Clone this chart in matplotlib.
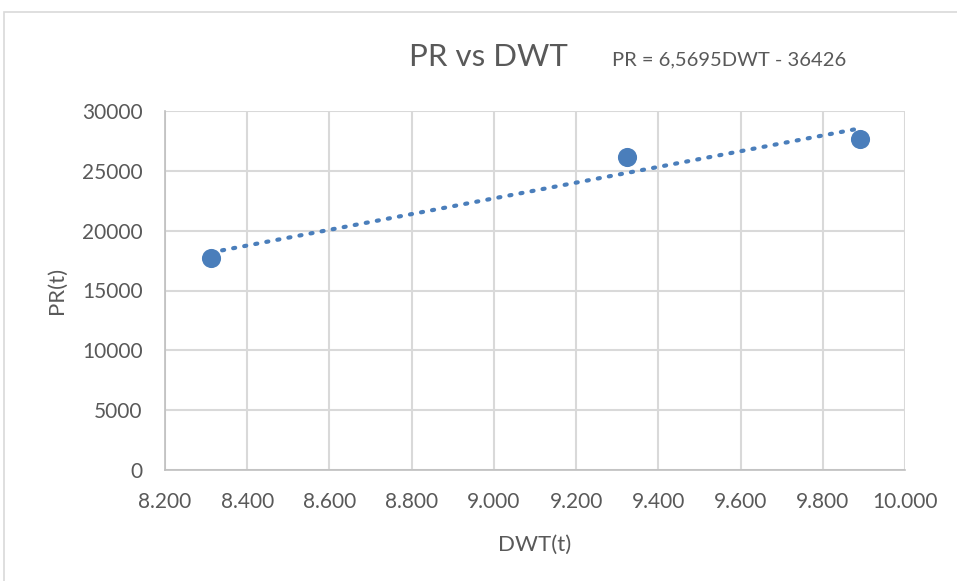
import matplotlib
matplotlib.use("Agg")
import matplotlib.pyplot as plt
import matplotlib.ticker as mticker
from matplotlib.patches import Rectangle
import numpy as np

plt.rcParams['font.family'] = ['Lato', 'DejaVu Sans']

dwt = [8312, 9324, 9890]
pr = [17716, 26156, 27660]
slope, intercept = 6.5695, -36426
x_ticks = [8200, 8400, 8600, 8800, 9000, 9200, 9400, 9600, 9800, 10000]
y_ticks = [0, 5000, 10000, 15000, 20000, 25000, 30000]

W, H = 957, 581
fig = plt.figure(figsize=(W/100, H/100), dpi=100)
fig.patches.append(Rectangle((4/W, -0.1), 1.2, 1.1 - 12/H, transform=fig.transFigure,
                             fill=False, edgecolor='#d9d9d9', linewidth=1.2))
ax = fig.add_axes([165/W, 1 - 470/H, 740/W, 359/H])

ax.set_xlim(8200, 10000)
ax.set_ylim(0, 30000)
ax.set_xticks(x_ticks)
ax.set_yticks(y_ticks)
ax.xaxis.set_major_formatter(mticker.FuncFormatter(lambda v, p: f"{int(v):,}".replace(",", ".")))
ax.grid(True, color='#d9d9d9', linewidth=1.5)
ax.set_axisbelow(True)
for s in ['top', 'right']:
    ax.spines[s].set_visible(False)
for s in ['left', 'bottom']:
    ax.spines[s].set_color('#bfbfbf')
    ax.spines[s].set_linewidth(1.2)
ax.tick_params(length=0, labelsize=15, labelcolor='#595959')
ax.tick_params(axis='x', pad=15.5)
ax.tick_params(axis='y', pad=16)

xs = np.array([min(dwt), max(dwt)])
ax.plot(xs, slope * xs + intercept, color='#4a7ebb', linewidth=3,
        linestyle=(0, (0.5, 2.2)), dash_capstyle='round', zorder=3)
ax.scatter(dwt, pr, s=190, color='#4a7ebb', zorder=4, linewidths=0)

ax.set_xlabel('DWT(t)', fontsize=16, color='#595959', labelpad=17)
ax.set_ylabel('PR(t)', fontsize=16, color='#595959', labelpad=11)

fig.text(488/W, 1 - 57/H, 'PR vs DWT', fontsize=22.5, color='#595959', ha='center', va='center')
fig.text(612/W, 1 - 60/H, 'PR = 6,5695DWT - 36426', fontsize=14.5, color='#595959', ha='left', va='center')

fig.savefig('out.png', dpi=100)
